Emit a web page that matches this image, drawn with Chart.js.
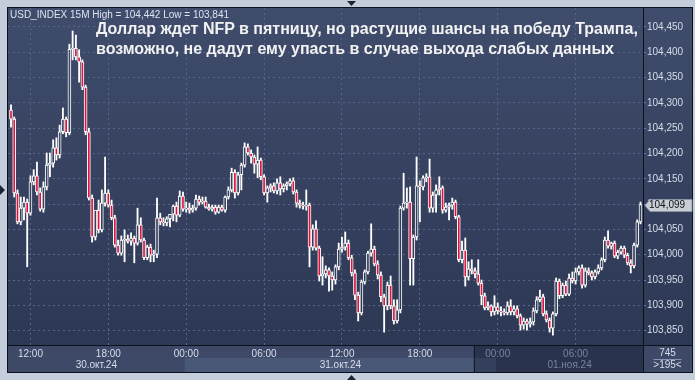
<!DOCTYPE html>
<html>
<head>
<meta charset="utf-8">
<script src="https://cdn.jsdelivr.net/npm/chart.js@4.4.1/dist/chart.umd.min.js"></script>
<style>
  html, body { margin: 0; padding: 0; background: #c3cddb; }
  #wrap { position: relative; width: 695px; height: 380px; overflow: hidden; }
  #chart { position: absolute; left: 0; top: 0; }
  .info { position: absolute; left: 10px; top: 9px; font: 10px "Liberation Sans", Arial, sans-serif; color: #dde4f1; white-space: nowrap; }
  .headline { position: absolute; left: 96px; top: 19px; font: bold 16px/20px "Liberation Sans", Arial, sans-serif; color: #f2f2f2; white-space: nowrap; }
</style>
</head>
<body>
<div id="wrap">
  <canvas id="chart" width="695" height="380"></canvas>
  <div class="info">USD_INDEX 15M High = 104,442 Low = 103,841</div>
  <div class="headline">Доллар ждет NFP в пятницу, но растущие шансы на победу Трампа,<br>возможно, не дадут ему упасть в случае выхода слабых данных</div>
</div>
<script>
// USD_INDEX, 15 minute candles, 30.10.24 10:30 .. 01.11.24 11:00
const opens = [
  104.286, 104.268, 104.122, 104.065, 104.092, 104.104, 104.082, 104.144, 104.156, 104.124,
  104.090, 104.134, 104.177, 104.181, 104.211, 104.197, 104.243, 104.268, 104.241, 104.406,
  104.408, 104.391, 104.381, 104.331, 104.243, 104.112, 104.035, 104.088, 104.049, 104.102,
  104.122, 104.098, 104.073, 104.019, 104.003, 104.029, 104.031, 104.027, 104.033, 104.023,
  104.059, 104.029, 103.994, 104.015, 103.999, 104.001, 104.073, 104.065, 104.063, 104.071,
  104.080, 104.096, 104.078, 104.116, 104.090, 104.092, 104.088, 104.092, 104.110, 104.104,
  104.106, 104.094, 104.090, 104.094, 104.084, 104.094, 104.088, 104.114, 104.128, 104.163,
  104.122, 104.158, 104.177, 104.213, 104.201, 104.193, 104.179, 104.187, 104.154, 104.122,
  104.132, 104.136, 104.126, 104.142, 104.130, 104.136, 104.140, 104.146, 104.124, 104.102,
  104.098, 104.096, 104.098, 104.015, 104.051, 104.013, 103.958, 103.962, 103.970, 103.958,
  103.950, 103.976, 104.011, 104.015, 104.023, 103.994, 103.964, 103.920, 103.885, 103.946,
  103.966, 104.003, 104.011, 103.982, 103.960, 103.917, 103.899, 103.940, 103.899, 103.869,
  103.891, 104.092, 104.102, 104.104, 103.992, 104.035, 104.136, 104.134, 104.152, 104.154,
  104.092, 104.118, 104.128, 104.132, 104.088, 104.094, 104.098, 104.104, 104.075, 103.990,
  104.009, 103.956, 103.972, 103.968, 103.962, 103.944, 103.919, 103.895, 103.899, 103.887,
  103.897, 103.889, 103.887, 103.885, 103.899, 103.887, 103.893, 103.879, 103.861, 103.869,
  103.863, 103.867, 103.889, 103.911, 103.917, 103.883, 103.871, 103.855, 103.883, 103.948,
  103.919, 103.940, 103.922, 103.954, 103.948, 103.966, 103.974, 103.940, 103.968, 103.964,
  103.956, 103.966, 103.974, 103.990, 104.029, 104.017, 104.023, 103.997, 104.005, 104.013,
  103.999, 103.984, 103.978, 104.019, 104.065
];
const highs = [
  104.296, 104.272, 104.128, 104.114, 104.114, 104.110, 104.156, 104.168, 104.183, 104.132,
  104.144, 104.201, 104.201, 104.227, 104.231, 104.256, 104.290, 104.272, 104.416, 104.442,
  104.434, 104.405, 104.385, 104.335, 104.250, 104.118, 104.078, 104.108, 104.128, 104.193,
  104.128, 104.108, 104.078, 104.029, 104.037, 104.049, 104.039, 104.043, 104.037, 104.092,
  104.073, 104.033, 104.019, 104.021, 104.009, 104.112, 104.082, 104.073, 104.075, 104.078,
  104.098, 104.104, 104.126, 104.124, 104.104, 104.102, 104.098, 104.118, 104.116, 104.114,
  104.114, 104.100, 104.098, 104.098, 104.098, 104.098, 104.116, 104.134, 104.171, 104.168,
  104.163, 104.181, 104.221, 104.219, 104.207, 104.197, 104.213, 104.191, 104.158, 104.136,
  104.140, 104.142, 104.150, 104.154, 104.140, 104.144, 104.150, 104.152, 104.128, 104.108,
  104.104, 104.128, 104.102, 104.059, 104.067, 104.017, 103.996, 103.978, 103.974, 103.966,
  103.980, 104.023, 104.035, 104.045, 104.029, 103.999, 103.970, 103.926, 103.950, 103.970,
  104.007, 104.061, 104.017, 103.988, 103.966, 103.922, 103.946, 103.958, 103.911, 103.911,
  104.096, 104.161, 104.132, 104.134, 104.039, 104.193, 104.146, 104.156, 104.160, 104.189,
  104.124, 104.138, 104.154, 104.136, 104.102, 104.102, 104.112, 104.108, 104.078, 104.027,
  104.033, 103.986, 103.990, 103.974, 103.990, 103.950, 103.924, 103.907, 103.901, 103.919,
  103.905, 103.897, 103.893, 103.907, 103.911, 103.899, 103.899, 103.883, 103.875, 103.873,
  103.875, 103.895, 103.917, 103.930, 103.922, 103.889, 103.875, 103.887, 103.954, 103.952,
  103.944, 103.948, 103.962, 103.966, 103.974, 103.978, 103.980, 103.974, 103.974, 103.968,
  103.970, 103.980, 103.994, 104.035, 104.047, 104.025, 104.027, 104.009, 104.017, 104.017,
  104.003, 103.990, 104.023, 104.069, 104.104
];
const lows = [
  104.252, 104.114, 104.061, 104.059, 104.069, 103.976, 104.078, 104.138, 104.118, 104.086,
  104.084, 104.128, 104.154, 104.173, 104.187, 104.191, 104.239, 104.233, 104.237, 104.385,
  104.385, 104.341, 104.326, 104.237, 104.108, 104.025, 104.029, 104.043, 104.045, 104.096,
  104.094, 104.069, 104.015, 103.999, 103.999, 103.986, 104.023, 104.019, 103.984, 104.019,
  104.025, 103.990, 103.990, 103.986, 103.986, 103.994, 104.059, 104.057, 104.057, 104.055,
  104.067, 104.065, 104.075, 104.086, 104.084, 104.082, 104.084, 104.088, 104.098, 104.100,
  104.092, 104.088, 104.086, 104.080, 104.082, 104.086, 104.084, 104.110, 104.124, 104.112,
  104.118, 104.128, 104.173, 104.197, 104.181, 104.161, 104.152, 104.148, 104.118, 104.104,
  104.124, 104.122, 104.120, 104.118, 104.124, 104.128, 104.136, 104.120, 104.094, 104.092,
  104.090, 104.088, 103.976, 104.009, 104.009, 103.948, 103.940, 103.954, 103.928, 103.930,
  103.942, 103.970, 104.005, 104.009, 103.990, 103.958, 103.911, 103.869, 103.881, 103.942,
  103.962, 103.997, 103.978, 103.952, 103.907, 103.847, 103.891, 103.893, 103.863, 103.865,
  103.885, 104.088, 104.092, 103.940, 103.940, 104.029, 104.065, 104.128, 104.144, 104.084,
  104.084, 104.084, 104.118, 104.082, 104.084, 104.069, 104.090, 104.071, 103.986, 103.984,
  103.938, 103.950, 103.962, 103.954, 103.940, 103.901, 103.891, 103.891, 103.879, 103.881,
  103.883, 103.879, 103.881, 103.881, 103.881, 103.881, 103.875, 103.851, 103.853, 103.851,
  103.857, 103.861, 103.885, 103.907, 103.879, 103.867, 103.847, 103.841, 103.879, 103.913,
  103.915, 103.919, 103.919, 103.944, 103.942, 103.960, 103.934, 103.936, 103.960, 103.950,
  103.952, 103.962, 103.970, 103.986, 104.013, 104.011, 103.994, 103.992, 104.001, 103.994,
  103.980, 103.964, 103.974, 104.015, 104.061
];
const closes = [
  104.268, 104.122, 104.065, 104.092, 104.104, 104.082, 104.144, 104.156, 104.124, 104.090,
  104.134, 104.177, 104.181, 104.211, 104.197, 104.243, 104.268, 104.241, 104.406, 104.408,
  104.391, 104.381, 104.331, 104.243, 104.112, 104.035, 104.088, 104.049, 104.102, 104.122,
  104.098, 104.073, 104.019, 104.003, 104.029, 104.031, 104.027, 104.033, 104.023, 104.059,
  104.029, 103.994, 104.015, 103.999, 104.001, 104.073, 104.065, 104.063, 104.071, 104.080,
  104.096, 104.078, 104.116, 104.090, 104.092, 104.088, 104.092, 104.110, 104.104, 104.106,
  104.094, 104.090, 104.094, 104.084, 104.094, 104.088, 104.114, 104.128, 104.163, 104.122,
  104.158, 104.177, 104.213, 104.201, 104.193, 104.179, 104.187, 104.154, 104.122, 104.132,
  104.136, 104.126, 104.142, 104.130, 104.136, 104.140, 104.146, 104.124, 104.102, 104.098,
  104.096, 104.098, 104.015, 104.051, 104.013, 103.958, 103.962, 103.970, 103.958, 103.950,
  103.976, 104.011, 104.015, 104.023, 103.994, 103.964, 103.920, 103.885, 103.946, 103.966,
  104.003, 104.011, 103.982, 103.960, 103.917, 103.899, 103.940, 103.899, 103.869, 103.891,
  104.092, 104.102, 104.104, 103.992, 104.035, 104.136, 104.134, 104.152, 104.154, 104.092,
  104.118, 104.128, 104.132, 104.088, 104.094, 104.098, 104.104, 104.075, 103.990, 104.009,
  103.956, 103.972, 103.968, 103.962, 103.944, 103.919, 103.895, 103.899, 103.887, 103.897,
  103.889, 103.887, 103.885, 103.899, 103.887, 103.893, 103.879, 103.861, 103.869, 103.863,
  103.867, 103.889, 103.911, 103.917, 103.883, 103.871, 103.855, 103.883, 103.948, 103.919,
  103.940, 103.922, 103.954, 103.948, 103.966, 103.974, 103.940, 103.968, 103.964, 103.956,
  103.966, 103.974, 103.990, 104.029, 104.017, 104.023, 103.997, 104.005, 104.013, 103.999,
  103.984, 103.978, 104.019, 104.065, 104.099
];

// axis labels
const priceTicks = [103.85, 103.90, 103.95, 104.00, 104.05, 104.10, 104.15, 104.20, 104.25, 104.30, 104.35, 104.40, 104.45];
const timeTickIdx = [6, 30, 54, 78, 102, 126, 150, 174];
const timeTickLabels = ['12:00', '18:00', '00:00', '06:00', '12:00', '18:00', '00:00', '06:00'];
const dayLabels = ['30.окт.24', '31.окт.24', '01.ноя.24'];
const dayStartIdx = [54, 150];
const barsTotal = '745';
const barsVisible = '>195<';

const FONT = '"Liberation Sans", Arial, sans-serif';
const AXIS_TEXT = '#d6ddeb';
const DIM_TEXT = '#77839f';
const GRID = '#56648a';
const BEAR = '#dc143c';

let plotGrad = null;
function plotFill( chart ) {
	if ( ! plotGrad ) {
		plotGrad = chart.ctx.createLinearGradient( 0, 7, 0, 372 );
		plotGrad.addColorStop( 0, '#3f4c6b' );
		plotGrad.addColorStop( 1, '#2b3652' );
	}
	return plotGrad;
}

const wicks = closes.map( ( c, i ) => ( { x: i, y: [ lows[ i ], highs[ i ] ] } ) );
const bodies = closes.map( ( c, i ) => ( { x: i, y: [ opens[ i ], c ] } ) );

// frame, time strip, day names, price tag and corner box
const terminalFrame = {
	id: 'terminalFrame',
	beforeDraw( chart ) {
		const { ctx, chartArea: a, scales: { x } } = chart;
		ctx.save();
		ctx.fillStyle = '#c3cddb';
		ctx.fillRect( 0, 0, chart.width, chart.height );
		ctx.fillStyle = plotFill( chart );
		ctx.fillRect( 7, 7, 686, 366 );

		const mid = a.bottom + 13;
		const end = 372;
		const xDim = x.getPixelForValue( 142.6 );
		const xD1 = x.getPixelForValue( dayStartIdx[ 0 ] - 0.5 );
		const xD2 = x.getPixelForValue( dayStartIdx[ 1 ] - 0.5 );
		ctx.fillStyle = '#3d4967';
		ctx.fillRect( a.left, a.bottom, xDim - a.left, end - a.bottom );
		ctx.fillRect( a.right, a.bottom, 692 - a.right, end - a.bottom );
		ctx.fillStyle = '#29334d';
		ctx.fillRect( xDim, a.bottom, a.right - xDim, end - a.bottom );
		ctx.fillStyle = '#4a5878';
		ctx.fillRect( xD1, mid, xDim - xD1, end - mid );
		ctx.fillStyle = '#35405d';
		ctx.fillRect( xDim, mid, xD2 - xDim, end - mid );
		ctx.fillStyle = '#151b2a';
		ctx.fillRect( Math.round( xDim ), a.bottom, 1, end - a.bottom );

		ctx.font = '10px ' + FONT;
		ctx.textAlign = 'center';
		ctx.textBaseline = 'middle';
		const spans = [ [ a.left, xD1 ], [ xD1, xD2 ], [ xD2, a.right ] ];
		spans.forEach( ( s, k ) => {
			ctx.fillStyle = k === 2 ? DIM_TEXT : AXIS_TEXT;
			ctx.fillText( dayLabels[ k ], ( s[ 0 ] + s[ 1 ] ) / 2, 365 );
		} );
		ctx.restore();
	},
	afterDraw( chart ) {
		const { ctx, chartArea: a, scales: { y } } = chart;
		ctx.save();
		ctx.strokeStyle = '#0c111c';
		ctx.lineWidth = 1;
		ctx.strokeRect( 7.5, 7.5, 685, 365 );
		ctx.beginPath();
		ctx.moveTo( a.right + 0.5, 7 );
		ctx.lineTo( a.right + 0.5, 372 );
		ctx.moveTo( 7, a.bottom + 0.5 );
		ctx.lineTo( 692, a.bottom + 0.5 );
		ctx.stroke();

		// last price tag
		const last = closes[ closes.length - 1 ];
		const py = Math.round( y.getPixelForValue( last ) ) + 0.5;
		ctx.beginPath();
		ctx.moveTo( a.right + 2, py );
		ctx.lineTo( a.right + 7, py - 6 );
		ctx.lineTo( 692, py - 6 );
		ctx.lineTo( 692, py + 6 );
		ctx.lineTo( a.right + 7, py + 6 );
		ctx.closePath();
		ctx.fillStyle = '#c9ced6';
		ctx.fill();
		ctx.strokeStyle = '#8d95a3';
		ctx.stroke();
		ctx.fillStyle = '#111111';
		ctx.font = '10px ' + FONT;
		ctx.textAlign = 'left';
		ctx.textBaseline = 'middle';
		ctx.fillText( last.toFixed( 3 ).replace( '.', ',' ), a.right + 6, py );

		// bar counter box
		const cx = ( a.right + 692 ) / 2;
		ctx.textAlign = 'center';
		ctx.fillStyle = AXIS_TEXT;
		ctx.fillText( barsTotal, cx, 353 );
		ctx.fillText( barsVisible, cx, 365 );
		ctx.fillStyle = '#8795b3';
		ctx.fillRect( cx - 14, 359, 28, 1 );

		// scroll markers
		ctx.fillStyle = '#1b2336';
		ctx.beginPath();
		ctx.moveTo( 347, 1 ); ctx.lineTo( 356, 1 ); ctx.lineTo( 351.5, 6 ); ctx.closePath();
		ctx.moveTo( 347, 380 ); ctx.lineTo( 356, 380 ); ctx.lineTo( 351.5, 375 ); ctx.closePath();
		ctx.moveTo( 0, 185 ); ctx.lineTo( 0, 195 ); ctx.lineTo( 5, 190 ); ctx.closePath();
		ctx.fill();
		ctx.restore();
	},
};

new Chart( document.getElementById( 'chart' ), {
	type: 'bar',
	data: {
		datasets: [
			{
				label: 'wick',
				data: wicks,
				backgroundColor: '#ffffff',
				borderWidth: 0,
				barThickness: 1.2,
				grouped: false,
				order: 2,
			},
			{
				label: 'body',
				data: bodies,
				backgroundColor: ( c ) => ( closes[ c.dataIndex ] < opens[ c.dataIndex ] ? BEAR : plotFill( c.chart ) ),
				borderColor: '#ffffff',
				borderWidth: 1,
				borderSkipped: false,
				barThickness: 3,
				minBarLength: 1,
				grouped: false,
				order: 1,
			},
		],
	},
	options: {
		responsive: false,
		devicePixelRatio: 1,
		animation: false,
		events: [],
		layout: { padding: { left: 8, top: 8, right: 3, bottom: 8 } },
		plugins: {
			legend: { display: false },
			tooltip: { enabled: false },
		},
		scales: {
			x: {
				type: 'linear',
				position: 'bottom',
				min: -0.92,
				max: 194.77,
				offset: false,
				afterBuildTicks: ( s ) => { s.ticks = timeTickIdx.map( ( v ) => ( { value: v } ) ); },
				afterFit: ( s ) => { s.height = 27; },
				grid: { color: GRID, drawTicks: false, offset: false },
				border: { display: false, dash: [ 2, 3 ] },
				ticks: {
					padding: 3,
					autoSkip: false,
					maxRotation: 0,
					font: { family: FONT, size: 10 },
					color: ( c ) => ( c.index >= 6 ? DIM_TEXT : AXIS_TEXT ),
					callback: ( v, i ) => timeTickLabels[ i ],
				},
			},
			y: {
				position: 'right',
				min: 103.8216,
				max: 104.4875,
				afterBuildTicks: ( s ) => { s.ticks = priceTicks.map( ( v ) => ( { value: v } ) ); },
				afterFit: ( s ) => { s.width = 49; },
				grid: { color: GRID, tickColor: '#4d7fd8', tickLength: 3 },
				border: { display: false, dash: [ 2, 3 ] },
				ticks: {
					padding: 1,
					font: { family: FONT, size: 10 },
					color: AXIS_TEXT,
					callback: ( v ) => v.toFixed( 3 ).replace( '.', ',' ),
				},
			},
		},
	},
	plugins: [ terminalFrame ],
} );
</script>
</body>
</html>
